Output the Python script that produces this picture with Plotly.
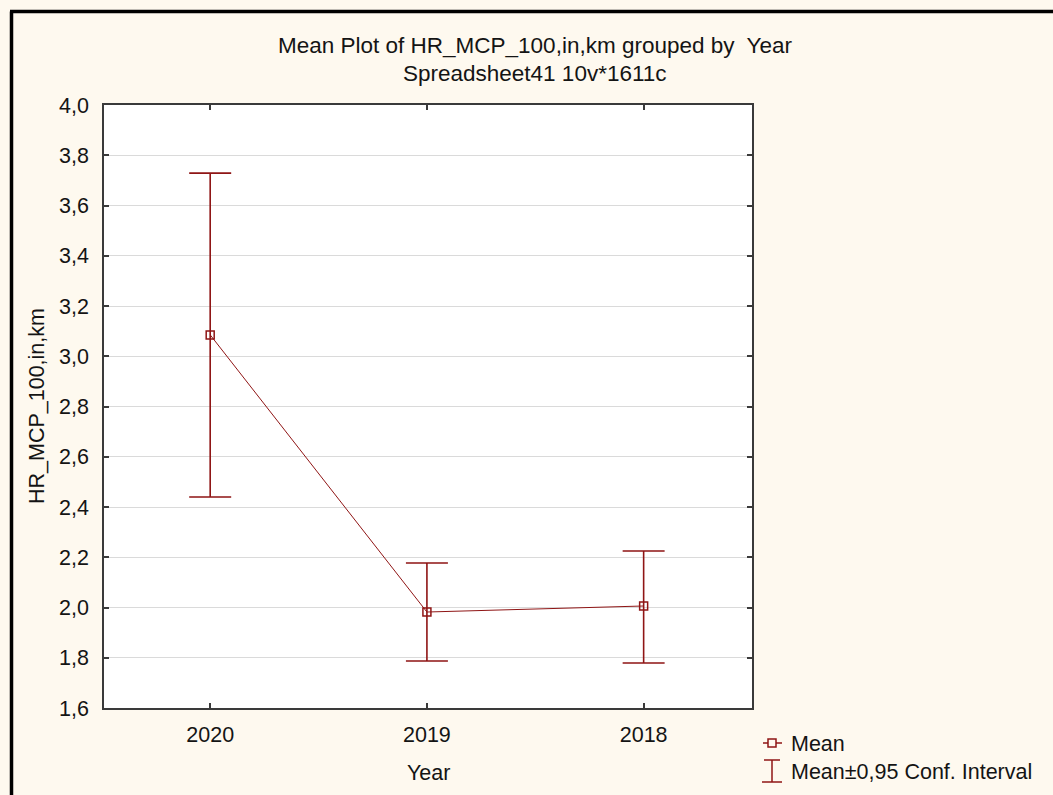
import plotly.graph_objects as go

# ---- data ----
years = ["2020", "2019", "2018"]
means = [3.085, 1.982, 2.006]
ci_upper = [3.729, 2.177, 2.225]
ci_lower = [2.440, 1.787, 1.779]

title_line1 = "Mean Plot of HR_MCP_100,in,km grouped by  Year"
title_line2 = "Spreadsheet41 10v*1611c"
y_title = "HR_MCP_100,in,km"
x_title = "Year"
legend_labels = ["Mean", "Mean±0,95 Conf. Interval"]

# ---- layout geometry (pixels) ----
W, H = 1053, 795
L, R, T, B = 104, 752, 105, 708
RED = "#8f1515"
TXT = "#141414"
BG = "#FEF9EF"
FONT = "Liberation Sans, Arial, sans-serif"
FS = 21.5
FS_T = 22.5


def px_x(p):
    return (p - L) / (R - L)


def px_y(p):
    return (B - p) / (B - T)


err_plus = [u - m for u, m in zip(ci_upper, means)]
err_minus = [m - l for m, l in zip(means, ci_lower)]

fig = go.Figure()
fig.add_trace(go.Scatter(
    x=years, y=means, mode="lines+markers",
    line=dict(color=RED, width=1),
    marker=dict(symbol="square-open", size=8, color=RED, line=dict(width=1.5, color=RED)),
    error_y=dict(type="data", symmetric=False, array=err_plus, arrayminus=err_minus,
                 color=RED, thickness=1.6, width=21),
    showlegend=False, hoverinfo="skip",
))

fig.update_layout(
    width=W, height=H,
    margin=dict(l=L, r=W - R, t=T, b=H - B, pad=0),
    paper_bgcolor=BG, plot_bgcolor="white",
    separators=",.",
    font=dict(family=FONT, size=FS, color=TXT),
    showlegend=False,
)

fig.update_xaxes(
    type="category", range=[-0.49, 2.5],
    showline=True, linecolor="#3a3a3a", linewidth=1.5, mirror="ticks",
    ticks="inside", ticklen=5, tickcolor="#3a3a3a", tickwidth=1.5,
    showgrid=False, zeroline=False,
    tickfont=dict(size=FS, family=FONT, color=TXT), ticklabelstandoff=6,
)
fig.update_yaxes(
    range=[1.6, 4.0], dtick=0.2, tick0=1.6, tickformat=".1f",
    showline=True, linecolor="#3a3a3a", linewidth=1.5, mirror="ticks",
    ticks="inside", ticklen=5, tickcolor="#3a3a3a", tickwidth=1.5,
    showgrid=True, gridcolor="#DADADA", gridwidth=1.2, zeroline=False,
    tickfont=dict(size=FS, family=FONT, color=TXT), ticklabelstandoff=9,
)

ann = []
ann.append(dict(text=title_line1, x=px_x(535), y=px_y(45), xref="paper", yref="paper",
                showarrow=False, xanchor="center", yanchor="middle", font=dict(size=FS_T)))
ann.append(dict(text=title_line2, x=px_x(535), y=px_y(74), xref="paper", yref="paper",
                showarrow=False, xanchor="center", yanchor="middle", font=dict(size=FS_T)))
ann.append(dict(text=y_title, x=px_x(37), y=px_y(406), xref="paper", yref="paper",
                showarrow=False, textangle=-90, xanchor="center", yanchor="middle",
                font=dict(size=FS)))
ann.append(dict(text=x_title, x=px_x(428), y=px_y(773), xref="paper", yref="paper",
                showarrow=False, xanchor="center", yanchor="middle", font=dict(size=FS)))
ann.append(dict(text=legend_labels[0], x=px_x(789), y=px_y(744), xref="paper", yref="paper",
                showarrow=False, xanchor="left", yanchor="middle", font=dict(size=FS)))
ann.append(dict(text=legend_labels[1], x=px_x(789), y=px_y(772), xref="paper", yref="paper",
                showarrow=False, xanchor="left", yanchor="middle", font=dict(size=FS)))
fig.update_layout(annotations=ann)

shapes = []
# figure frame (left and top black border)
shapes.append(dict(type="line", xref="paper", yref="paper",
                   x0=px_x(11.5), x1=px_x(11.5), y0=px_y(11.5), y1=px_y(800),
                   line=dict(color="black", width=3.5)))
shapes.append(dict(type="line", xref="paper", yref="paper",
                   x0=px_x(10), x1=px_x(1060), y0=px_y(11.5), y1=px_y(11.5),
                   line=dict(color="black", width=3.5)))
# legend icon: mean (line with square)
shapes.append(dict(type="line", xref="paper", yref="paper",
                   x0=px_x(763), x1=px_x(782), y0=px_y(743), y1=px_y(743),
                   line=dict(color=RED, width=1.5)))
shapes.append(dict(type="rect", xref="paper", yref="paper",
                   x0=px_x(768), x1=px_x(776), y0=px_y(739), y1=px_y(747),
                   line=dict(color=RED, width=1.5), fillcolor=BG))
# legend icon: confidence interval (I-beam)
shapes.append(dict(type="line", xref="paper", yref="paper",
                   x0=px_x(772), x1=px_x(772), y0=px_y(760), y1=px_y(782),
                   line=dict(color=RED, width=1.5)))
shapes.append(dict(type="line", xref="paper", yref="paper",
                   x0=px_x(764), x1=px_x(780), y0=px_y(760), y1=px_y(760),
                   line=dict(color=RED, width=1.5)))
shapes.append(dict(type="line", xref="paper", yref="paper",
                   x0=px_x(762), x1=px_x(782), y0=px_y(782), y1=px_y(782),
                   line=dict(color=RED, width=1.5)))
fig.update_layout(shapes=shapes)

fig.write_html("out.html", config={"displayModeBar": False},
               post_script="document.body.style.margin='0';")
